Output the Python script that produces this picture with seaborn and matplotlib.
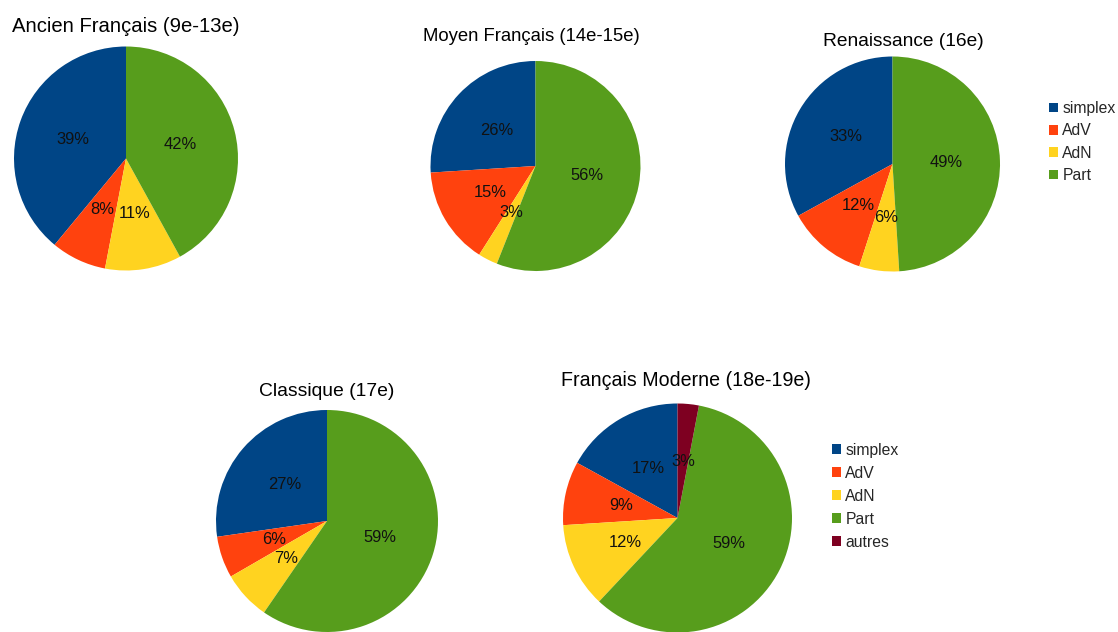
import matplotlib
matplotlib.use("Agg")
import matplotlib.pyplot as plt
import seaborn as sns
from matplotlib.patches import Patch

sns.set_style("white")
plt.rcParams["font.family"] = ["Liberation Sans", "DejaVu Sans"]

# ---- data ----
categories4 = ["simplex", "AdV", "AdN", "Part"]
categories5 = ["simplex", "AdV", "AdN", "Part", "autres"]

titles = ["Ancien Français (9e-13e)", "Moyen Français (14e-15e)", "Renaissance (16e)",
          "Classique (17e)", "Français Moderne (18e-19e)"]

ancien = [39, 8, 11, 42]
moyen = [26, 15, 3, 56]
renaissance = [33, 12, 6, 49]
classique = [27, 6, 7, 59]
moderne = [17, 9, 12, 59, 3]

series = [ancien, moyen, renaissance, classique, moderne]

palette = sns.color_palette(["#004586", "#ff420e", "#ffd320", "#579d1c", "#7e0021"])

W, H = 1118, 632
fig = plt.figure(figsize=(W / 100, H / 100), dpi=100)

# pie geometry in pixels: (cx, cy, r)
geom = [(126, 158.5, 112), (535.5, 166, 105), (892.5, 164, 107.5),
        (327, 521, 111), (677.5, 518, 114.5)]
# title placement: (x, baseline_y, ha, size)
tpos = [(12, 31.5, "left", 14.6), (531.5, 41, "center", 13.35), (903, 46, "center", 13.8),
        (326.5, 396, "center", 13.9), (686, 386, "center", 14.1)]

for vals, (cx, cy, r), title, (tx, ty, ha, ts) in zip(series, geom, titles, tpos):
    ax = fig.add_axes([(cx - r) / W, (H - cy - r) / H, 2 * r / W, 2 * r / H])
    labels_txt = iter([f"{v}%" for v in vals])
    ax.pie(vals, colors=palette[:len(vals)], startangle=90, counterclock=True,
           radius=1, pctdistance=0.5, autopct=lambda p: next(labels_txt),
           wedgeprops=dict(linewidth=0), textprops=dict(fontsize=11.9, color="#111111"))
    ax.set_xlim(-1, 1)
    ax.set_ylim(-1, 1)
    ax.set_axis_off()
    fig.text(tx / W, 1 - ty / H, title, ha=ha, va="baseline", fontsize=ts, color="black")

def add_legend(cats, x, y_top, spacing):
    handles = [Patch(facecolor=palette[i], edgecolor="none") for i in range(len(cats))]
    fig.legend(handles, cats, loc="upper left", bbox_to_anchor=(x / W, 1 - y_top / H),
               frameon=False, fontsize=11.3, handlelength=0.55, handleheight=0.55,
               handletextpad=0.3, labelspacing=spacing, borderpad=0, borderaxespad=0)

add_legend(categories4, 1049, 101, 0.47)
add_legend(categories5, 832, 442.5, 0.51)

fig.savefig("out.png", dpi=100)
